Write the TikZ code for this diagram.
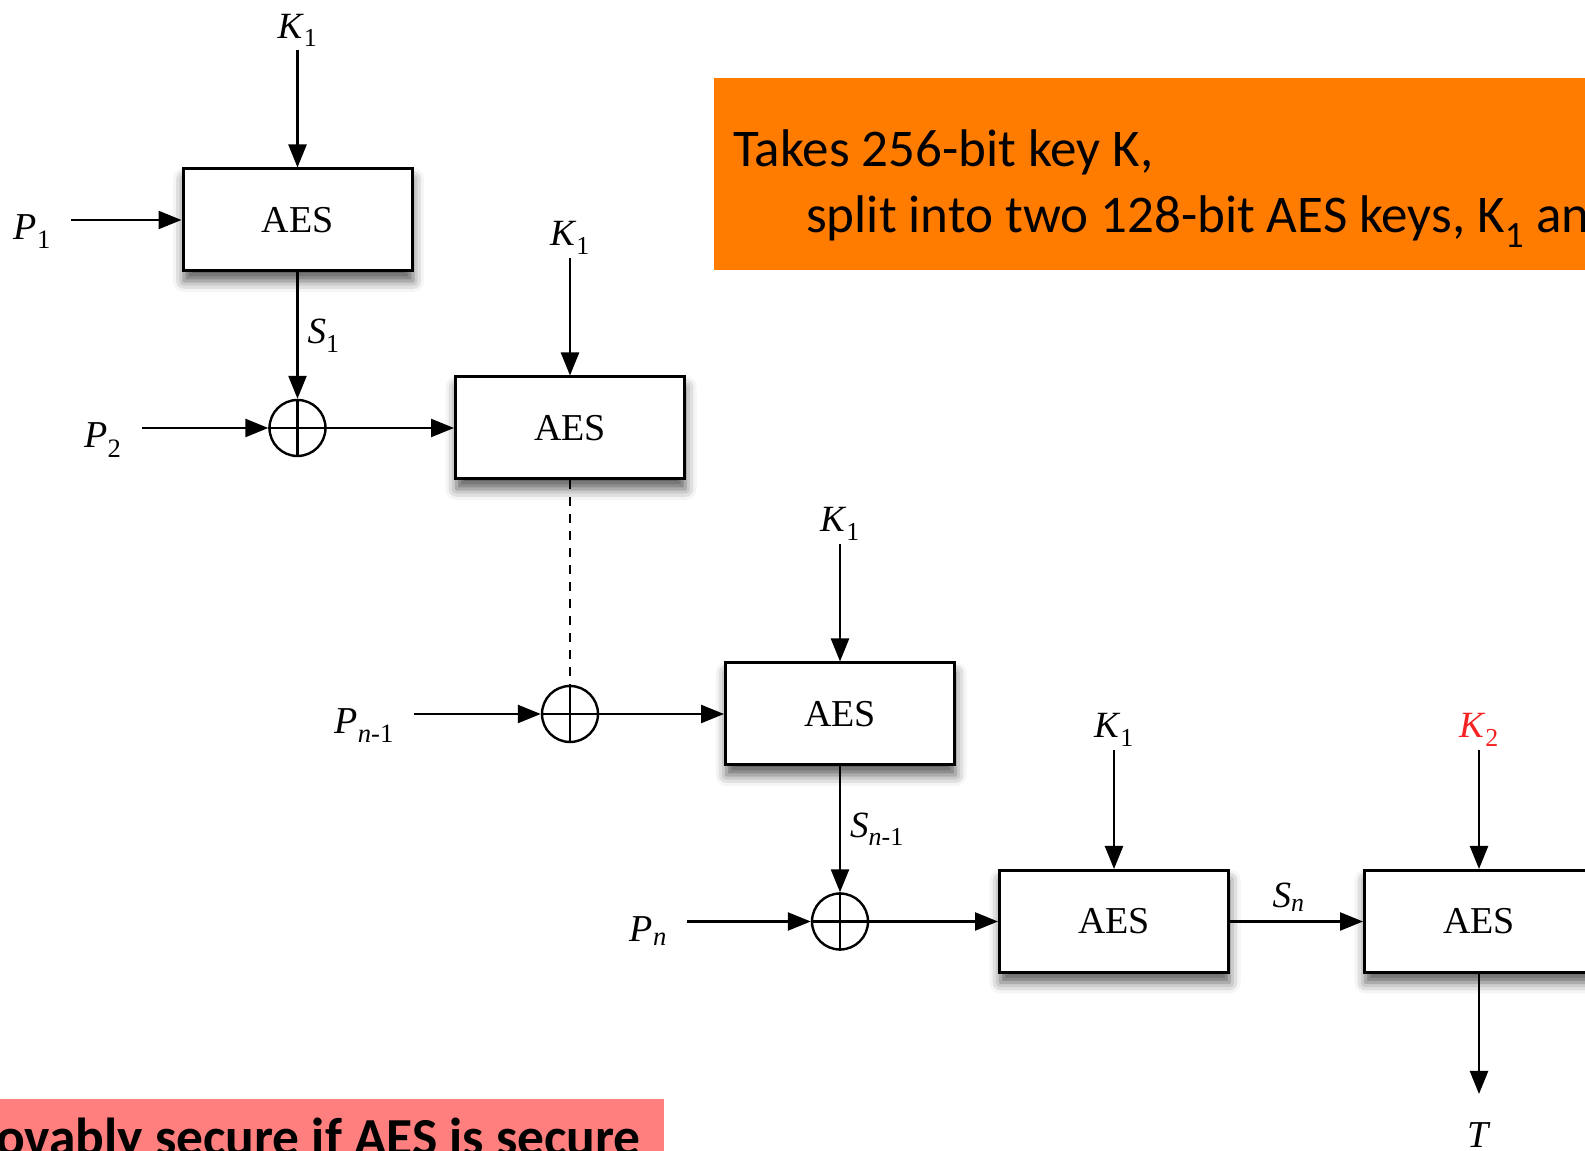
\documentclass[tikz,border=0pt]{standalone}
\usepackage{fontspec}
\setmainfont{Liberation Serif}
\newfontfamily\calibri{Carlito}
\usetikzlibrary{arrows.meta,shadows.blur}
\definecolor{boxorange}{RGB}{255,124,0}
\definecolor{boxpink}{RGB}{255,127,127}
\definecolor{keyred}{RGB}{245,35,35}
\newcommand{\sublab}[2]{\textit{#1}\textsubscript{#2}}

\begin{document}
\begin{tikzpicture}[x=1pt,y=1pt,
    aes/.style={draw, line width=3pt, fill=white, minimum width=229pt, minimum height=102pt,
        font=\fontsize{38}{40}\selectfont,
        blur shadow={shadow xshift=1pt, shadow yshift=-10pt, shadow blur radius=11pt, shadow opacity=65}},
    xorc/.style={draw, circle, line width=2.4pt, minimum size=56pt, inner sep=0pt},
    keylab/.style={font=\fontsize{37}{40}\selectfont, anchor=south, text height=26pt, text depth=8pt, inner xsep=2pt, inner ysep=4pt},
    plab/.style={font=\fontsize{38}{40}\selectfont, anchor=east, text height=40pt, text depth=0pt, inner xsep=20pt, inner ysep=0pt},
    slab/.style={font=\fontsize{37}{40}\selectfont, inner sep=9pt},
    arr/.style={line width=2.4pt, -{Triangle[length=23pt,width=18pt]}}]
    % picture 1585 x 1151, columns x = 297.5, 570, 840, 1114, 1479
    % rows y = 931, 723, 437, 229.5
    \useasboundingbox (0,0) rectangle (1585,1151);
    \clip (0,0) rectangle (1585,1151);

    % text boxes
    \fill[boxorange] (714,881) rectangle (1600,1073);
    \node[anchor=base west, inner sep=0pt, font=\calibri\fontsize{53}{66}\selectfont] (txta) at (733,984) {Takes 256-bit key K,};
    \node[anchor=base west, inner sep=0pt, font=\calibri\fontsize{53}{66}\selectfont] (txtb) at (806,918.5) {split into two 128-bit AES keys, K\textsubscript{1} and};
    \fill[boxpink] (-5,-5) rectangle (664,52);
    \node[anchor=base east, inner sep=0pt, font=\calibri\bfseries\fontsize{53.5}{60}\selectfont] (txtc) at (641,-5) {Provably secure if AES is secure};

    % AES blocks and XORs
    \node[aes] (e1) at (297.5,931) {AES};
    \node[xorc] (x1) at (297.5,723) {};
    \node[aes] (e2) at (570,723) {AES};
    \node[xorc] (x2) at (570,437) {};
    \node[aes] (e3) at (840,437) {AES};
    \node[xorc] (x3) at (840,229.5) {};
    \node[aes] (e4) at (1114,229.5) {AES};
    \node[aes] (e5) at (1479,229.5) {AES};
    \foreach \x in {x1,x2,x3}
        \draw[line width=2.4pt] (\x.north) -- (\x.south) (\x.west) -- (\x.east);

    % keys
    \node[keylab] (k1a) at (297.5,1100.5) {\sublab{K}{1}};
    \node[keylab] (k1b) at (570,893) {\sublab{K}{1}};
    \node[keylab] (k1c) at (840,607) {\sublab{K}{1}};
    \node[keylab] (k1d) at (1114,401) {\sublab{K}{1}};
    \node[keylab, text=keyred] (k2) at (1479,401) {\sublab{K}{2}};

    % plaintext blocks
    \node[plab] (p1) at (71,931) {\sublab{P}{1}};
    \node[plab] (p2) at (141.5,723) {\sublab{P}{2}};
    \node[plab] (pn1) at (414,437) {\textit{P}\textsubscript{\textit{n}-1}};
    \node[plab] (pn) at (687,229.5) {\textit{P}\textsubscript{\textit{n}}};

    \node[anchor=north, inner sep=0pt, font=\fontsize{38}{40}\selectfont] (t) at (1479,29) {\textit{T}};

    % connectors
    \foreach \a/\b in {k1a/e1, k1b/e2, k1c/e3, k1d/e4, k2/e5, p1/e1, p2/x1, pn1/x2, pn/x3, x1/e2, x2/e3, x3/e4}
        \draw[arr] (\a) -- (\b);
    \draw[arr] (e1) -- node[slab, right] {\sublab{S}{1}} (x1);
    \draw[arr] (e3) -- node[slab, right] {\textit{S}\textsubscript{\textit{n}-1}} (x3);
    \draw[arr] (e4) -- node[slab, above, xshift=-8pt] {\textit{S}\textsubscript{\textit{n}}} (e5);
    \draw[line width=2pt, dash pattern=on 9pt off 8pt] (e2) -- (x2);
    \draw[arr, shorten >=28pt] (e5) -- (t);
\end{tikzpicture}
\end{document}
